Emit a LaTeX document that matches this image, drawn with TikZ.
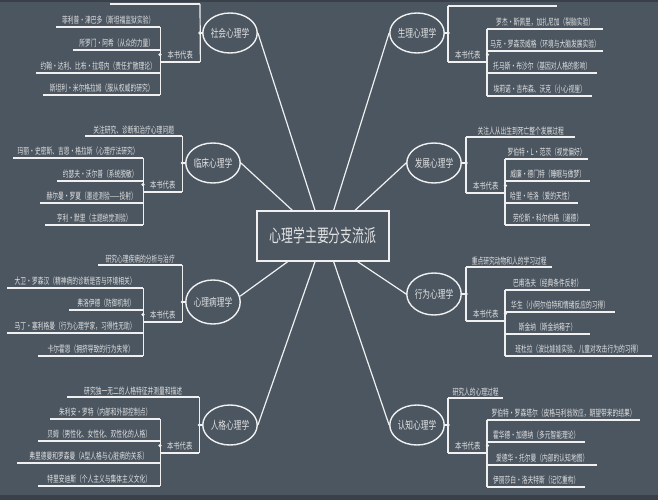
\documentclass[tikz,border=0pt]{standalone}
\usepackage{fontspec}
\setmainfont{Noto Sans CJK SC}
\newfontfamily\fitem[FakeStretch=0.64]{Noto Sans CJK SC}
\newfontfamily\fell[FakeStretch=0.7]{Noto Sans CJK SC}
\newfontfamily\ftitle[FakeStretch=0.66]{Noto Sans CJK SC}
\usetikzlibrary{calc,shapes.geometric}
\definecolor{bg}{HTML}{4B5661}
\definecolor{bgdark}{HTML}{394049}
\definecolor{ink}{HTML}{F0F0F0}
\definecolor{txt}{HTML}{E2E2E2}
% name, x, y, width, text
\newcommand\mmitem[5]{%
  \node[itm,minimum width=#4pt,anchor=south west] (#1) at (#2,#3) {#5};
  \draw[ln] (#1.south west) -- (#1.south east);}
\newcommand\mmrep[4]{%
  \node[rep,minimum width=#4pt,anchor=south west] (#1) at (#2,#3) {本书代表};
  \draw[ln] (#1.south west) -- (#1.south east);}
\begin{document}
\begin{tikzpicture}[x=1pt,y=-1pt,
  ln/.style={draw=ink,line width=1.2pt},
  itm/.style={font=\fitem\fontsize{9}{9}\selectfont,text=txt,inner xsep=0pt,inner ysep=2pt},
  rep/.style={font=\fell\fontsize{9}{9}\selectfont,text=txt,inner xsep=0pt,inner ysep=3pt},
  ell/.style={ellipse,draw=ink,line width=1.4pt,minimum width=54pt,minimum height=40pt,inner sep=0pt,
              font=\fell\fontsize{11}{11}\selectfont,text=txt},
  mk/.style={fill=ink}]
\useasboundingbox (0,0) rectangle (658,500);
\fill[bg] (0,0) rectangle (658,500);
\fill[bgdark] (0,495) rectangle (658,500);
\fill[bgdark] (0,0) rectangle (658,2);

% centre
\node[draw=ink,line width=1.4pt,minimum width=132pt,minimum height=50pt,inner sep=0pt,
      font=\ftitle\fontsize{18}{18}\selectfont,text=txt] (ctr) at (323,236) {心理学主要分支流派};
\coordinate (t1) at ($(ctr.north west)!0.27!(ctr.north east)$);
\coordinate (t2) at ($(ctr.north west)!0.44!(ctr.north east)$);
\coordinate (t3) at ($(ctr.north west)!0.58!(ctr.north east)$);
\coordinate (t4) at ($(ctr.north west)!0.74!(ctr.north east)$);
\coordinate (u1) at ($(ctr.south west)!0.235!(ctr.south east)$);
\coordinate (u2) at ($(ctr.south west)!0.44!(ctr.south east)$);
\coordinate (u3) at ($(ctr.south west)!0.58!(ctr.south east)$);
\coordinate (u4) at ($(ctr.south west)!0.76!(ctr.south east)$);

% ellipses
\node[ell] (soc) at (230,33) {社会心理学};
\node[ell] (phy) at (417,33) {生理心理学};
\node[ell] (cli) at (213,163) {临床心理学};
\node[ell,minimum width=52pt] (dev) at (434,163) {发展心理学};
\node[ell,minimum height=44pt] (pat) at (213,302) {心理病理学};
\node[ell,minimum width=52pt,minimum height=42pt] (beh) at (434,294) {行为心理学};
\node[ell] (per) at (230,425) {人格心理学};
\node[ell] (cog) at (417,425) {认知心理学};

\draw[ln] (soc.east) -- (t2);
\draw[ln] (cli.east) -- (t1);
\draw[ln] (phy.west) -- (t3);
\draw[ln] (dev.west) -- (t4);
\draw[ln] (pat.12) -- (u1);
\draw[ln] (per.east) -- (u2);
\draw[ln] (cog.west) -- (u3);
\draw[ln] (beh.west) -- (u4);

% ---------- social (left)
\coordinate (sd1) at (110,4); \coordinate (sd2) at (200,4);
\draw[ln] (sd1) -- (sd2);
\mmrep{sb}{160}{62}{40}
\draw[ln] (sd2) -- (sb.south east);
\draw[ln] (soc.west) -- (soc.west -| sd2); \fill[mk] (soc.west -| sd2) circle (1.8);
\mmitem{s1}{56}{27}{104}{菲利普·津巴多（斯坦福监狱实验）}
\mmitem{s2}{73}{50}{87}{所罗门·阿希（从众的力量）}
\mmitem{s3}{36}{73}{124}{约翰·达利、比布·拉塔内（责任扩散理论）}
\mmitem{s4}{43}{95}{117}{斯坦利·米尔格拉姆（服从权威的研究）}
\draw[ln] (s1.south east) -- (s4.south east);
\fill[mk] (sb.west) circle (1.8);

% ---------- physiological (right)
\coordinate (pd1) at (448,6); \coordinate (pd2) at (557,6);
\draw[ln] (pd1) -- (pd2);
\mmrep{pb}{448}{62}{39}
\draw[ln] (pd1) -- (pb.south west);
\draw[ln] (phy.east) -- (phy.east -| pd1); \fill[mk] (phy.east -| pd1) circle (1.8);
\mmitem{p1}{487}{29}{116}{罗杰·斯佩里，加扎尼加（裂脑实验）}
\mmitem{p2}{487}{51}{116}{马克·罗森茨威格（环境与大脑发展实验）}
\mmitem{p3}{487}{73}{110}{托马斯·布沙尔（基因对人格的影响）}
\mmitem{p4}{487}{96}{105}{埃莉诺·吉布森、沃克（小心视崖）}
\draw[ln] (p1.south west) -- (p4.south west);
\fill[mk] (pb.east) circle (1.8);

% ---------- clinical (left)
\mmitem{cd}{85}{136}{97}{关注研究、诊断和治疗心理问题}
\mmrep{cb}{143}{192}{39}
\draw[ln] (cd.south east) -- (cb.south east);
\draw[ln] (cli.west) -- (cli.west -| cd.south east); \fill[mk] (cli.west -| cd.south east) circle (1.8);
\mmitem{c1}{13}{158}{130}{玛丽·史密斯、吉恩·格拉斯（心理疗法研究）}
\mmitem{c2}{57}{181}{86}{约瑟夫·沃尔普（系统脱敏）}
\mmitem{c3}{40}{203}{103}{赫尔曼·罗夏（墨迹测验——投射）}
\mmitem{c4}{45}{225}{98}{亨利·默里（主题统觉测验）}
\draw[ln] (c1.south east) -- (c4.south east);
\fill[mk] (cb.west) circle (1.8);

% ---------- developmental (right)
\mmitem{dd}{466}{137}{109}{关注人从出生到死亡整个发展过程}
\mmrep{db}{466}{193}{39}
\draw[ln] (dd.south west) -- (db.south west);
\draw[ln] (dev.east) -- (dev.east -| dd.south west); \fill[mk] (dev.east -| dd.south west) circle (1.8);
\mmitem{d1}{505}{159}{83}{罗伯特·L·范茨（视觉偏好）}
\mmitem{d2}{505}{181}{85}{威廉·德门特（睡眠与做梦）}
\mmitem{d3}{505}{203}{73}{哈里·哈洛（爱的天性）}
\mmitem{d4}{505}{225}{85}{劳伦斯·科尔伯格（道德）}
\draw[ln] (d1.south west) -- (d4.south west);
\fill[mk] (db.east) circle (1.8);

% ---------- psychopathology (left)
\mmitem{ad}{98}{265}{84}{研究心理疾病的分析与治疗}
\mmrep{ab}{143}{322}{39}
\draw[ln] (ad.south east) -- (ab.south east);
\draw[ln] (pat.west) -- (pat.west -| ad.south east); \fill[mk] (pat.west -| ad.south east) circle (1.8);
\mmitem{a1}{7}{288}{136}{大卫·罗森汉（精神病的诊断是否与环境相关）}
\mmitem{a2}{69}{310}{74}{弗洛伊德（防御机制）}
\mmitem{a3}{7}{333}{136}{马丁·塞利格曼（行为心理学家，习得性无助）}
\mmitem{a4}{38}{356}{105}{卡尔霍恩（拥挤导致的行为失常）}
\draw[ln] (a1.south east) -- (a4.south east);
\fill[mk] (ab.west) circle (1.8);

% ---------- behavioural (right)
\mmitem{bd}{466}{267}{86}{重点研究动物和人的学习过程}
\mmrep{bb}{466}{321}{39}
\draw[ln] (bd.south west) -- (bb.south west);
\draw[ln] (beh.east) -- (beh.east -| bd.south west); \fill[mk] (beh.east -| bd.south west) circle (1.8);
\mmitem{b1}{505}{290}{85}{巴甫洛夫（经典条件反射）}
\mmitem{b2}{505}{312}{110}{华生（小阿尔伯特和情绪反应的习得）}
\mmitem{b3}{505}{334}{85}{斯金纳（斯金纳箱子）}
\mmitem{b4}{505}{356}{147}{班杜拉（波比娃娃实验，儿童对攻击行为的习得）}
\draw[ln] (b1.south west) -- (b4.south west);
\fill[mk] (bb.east) circle (1.8);

% ---------- personality (left)
\mmitem{rd}{67}{397}{132}{研究独一无二的人格特征并测量和描述}
\mmrep{rb}{160}{453}{39}
\draw[ln] (rd.south east) -- (rb.south east);
\draw[ln] (per.west) -- (per.west -| rd.south east); \fill[mk] (per.west -| rd.south east) circle (1.8);
\mmitem{r1}{50}{419}{110}{朱利安·罗特（内部和外部控制点）}
\mmitem{r2}{38}{441}{122}{贝姆（男性化、女性化、双性化的人格）}
\mmitem{r3}{17}{463}{143}{弗里德曼和罗森曼（A型人格与心脏病的关系）}
\mmitem{r4}{38}{486}{122}{特里安迪斯（个人主义与集体主义文化）}
\draw[ln] (r1.south east) -- (r4.south east);
\fill[mk] (rb.west) circle (1.8);

% ---------- cognitive (right)
\mmitem{gd}{448}{398}{55}{研究人的心理过程}
\mmrep{gb}{448}{453}{39}
\draw[ln] (gd.south west) -- (gb.south west);
\draw[ln] (cog.east) -- (cog.east -| gd.south west); \fill[mk] (cog.east -| gd.south west) circle (1.8);
\mmitem{g1}{487}{420}{153}{罗伯特·罗森塔尔（皮格马利翁效应，期望带来的结果）}
\mmitem{g2}{487}{442}{98}{霍华德·加德纳（多元智能理论）}
\mmitem{g3}{487}{465}{110}{爱德华·托尔曼（内部的认知地图）}
\mmitem{g4}{487}{487}{98}{伊丽莎白·洛夫特斯（记忆重构）}
\draw[ln] (g1.south west) -- (g4.south west);
\fill[mk] (gb.east) circle (1.8);
\end{tikzpicture}
\end{document}
